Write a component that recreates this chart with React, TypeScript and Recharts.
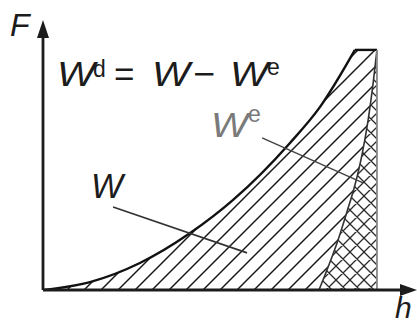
import React from "react";
import { ComposedChart, Area, XAxis, YAxis, ReferenceLine, ReferenceDot } from "recharts";

// loading curve (h, F)
const loadH = [0, 12.8, 26.4, 40.1, 51.8, 67.3, 75.5, 85.0];
const loadF = [0, 3.0, 10.2, 21.5, 34.0, 55.5, 69.1, 90.6];
// holding at max force
const topH = [85.0, 91.0];
const topF = [90.6, 90.6];
// unloading curve
const unloadH = [75.2, 77.9, 80.4, 82.8, 85.0, 86.9, 88.6, 89.9, 91.0];
const unloadF = [0, 9.4, 18.9, 29.4, 39.6, 50.9, 64.2, 77.4, 90.6];

type Row = { h: number; load?: number; top?: number; unload?: number };

function buildRows(): Row[] {
  const map = new Map<number, Row>();
  const put = (hs: number[], fs: number[], key: "load" | "top" | "unload") => {
    hs.forEach((h, i) => {
      const row = map.get(h) ?? { h };
      row[key] = fs[i];
      map.set(h, row);
    });
  };
  put(loadH, loadF, "load");
  put(topH, topF, "top");
  put(unloadH, unloadF, "unload");
  return [...map.values()].sort((a, b) => a.h - b.h);
}

const rows = buildRows();
const font = "'Liberation Sans', Arial, Helvetica, sans-serif";
const ink = "#1c1c1c";

const arrowUp = (p: any) => (
  <polygon points={`${p.cx},${p.cy} ${p.cx - 6},${p.cy + 18} ${p.cx + 6},${p.cy + 18}`} fill={ink} />
);
const arrowRight = (p: any) => (
  <polygon points={`${p.cx},${p.cy} ${p.cx - 17},${p.cy - 6} ${p.cx - 17},${p.cy + 6}`} fill={ink} />
);

export default function App() {
  return (
    <div style={{ position: "absolute", left: 0, top: 0, background: "#fff" }}>
      <ComposedChart width={417} height={327} data={rows} margin={{ top: 25, right: 7, bottom: 37, left: 43 }}>
        <defs>
          <pattern id="hatch" patternUnits="userSpaceOnUse" width="17" height="17">
            <path d="M-1,1 L1,-1 M0,17 L17,0 M16,18 L18,16" stroke="#1a1a1a" strokeWidth="1.5" />
          </pattern>
          <pattern id="cross" patternUnits="userSpaceOnUse" width="14" height="14">
            <rect width="14" height="14" fill="#fff" />
            <path d="M-1,1 L1,-1 M0,14 L14,0 M13,15 L15,13 M0,0 L14,14 M-1,13 L1,15 M13,-1 L15,1" stroke="#2a2a2a" strokeWidth="1.3" />
          </pattern>
        </defs>
        <XAxis dataKey="h" type="number" domain={[0, 100]} hide allowDataOverflow />
        <YAxis type="number" domain={[0, 100]} hide allowDataOverflow />
        <Area dataKey="load" type="monotone" connectNulls stroke="#111" strokeWidth={2.4} fill="url(#hatch)" fillOpacity={1} isAnimationActive={false} dot={false} activeDot={false} />
        <Area dataKey="top" type="linear" connectNulls stroke="#111" strokeWidth={2.4} fill="url(#hatch)" fillOpacity={1} isAnimationActive={false} dot={false} activeDot={false} />
        <Area dataKey="unload" type="monotone" connectNulls stroke="#333" strokeWidth={1.6} fill="url(#cross)" fillOpacity={1} isAnimationActive={false} dot={false} activeDot={false} />
        <ReferenceLine segment={[{ x: 91, y: 0 }, { x: 91, y: 90.6 }]} stroke="#888" strokeWidth={1.8} ifOverflow="visible" />
        {/* leader lines */}
        <ReferenceLine segment={[{ x: 19.1, y: 31.3 }, { x: 55.6, y: 14.0 }]} stroke="#333" strokeWidth={1.7} ifOverflow="visible" />
        <ReferenceLine segment={[{ x: 59.7, y: 57.4 }, { x: 87.2, y: 40.4 }]} stroke="#444" strokeWidth={1.5} ifOverflow="visible" />
        {/* axes */}
        <ReferenceLine segment={[{ x: 0, y: 0 }, { x: 98, y: 0 }]} stroke={ink} strokeWidth={2.8} ifOverflow="visible" />
        <ReferenceLine segment={[{ x: 0, y: 0 }, { x: 0, y: 96 }]} stroke={ink} strokeWidth={2.8} ifOverflow="visible" />
        <ReferenceDot x={0} y={101.9} r={0} shape={arrowUp} ifOverflow="visible" />
        <ReferenceDot x={101.9} y={0} r={0} shape={arrowRight} ifOverflow="visible" />
        {/* texts */}
        <text x={10} y={36} fontFamily={font} fontSize={32} fontStyle="italic" fill={ink}>F</text>
        <text x={395} y={318} fontFamily={font} fontSize={30} fontStyle="italic" fill={ink}>h</text>
        <text x={57} y={86} fontFamily={font} fontSize={35} fontStyle="italic" fill={ink} textLength={38} lengthAdjust="spacingAndGlyphs">W</text>
        <text x={93} y={77} fontFamily={font} fontSize={23} fill={ink}>d</text>
        <text x={114} y={86} fontFamily={font} fontSize={35} fill={ink}>=</text>
        <text x={152} y={86} fontFamily={font} fontSize={35} fontStyle="italic" fill={ink} textLength={38} lengthAdjust="spacingAndGlyphs">W</text>
        <text x={193} y={86} fontFamily={font} fontSize={35} fill={ink} textLength={22} lengthAdjust="spacingAndGlyphs">−</text>
        <text x={230} y={86} fontFamily={font} fontSize={35} fontStyle="italic" fill={ink} textLength={38} lengthAdjust="spacingAndGlyphs">W</text>
        <text x={267} y={75} fontFamily={font} fontSize={23} fill={ink}>e</text>
        <text x={211} y={137} fontFamily={font} fontSize={35} fontStyle="italic" fill="#7a7a7a" textLength={37} lengthAdjust="spacingAndGlyphs">W</text>
        <text x={248} y={122} fontFamily={font} fontSize={23} fill="#7a7a7a">e</text>
        <text x={91} y={198} fontFamily={font} fontSize={35} fontStyle="italic" fill={ink} textLength={32} lengthAdjust="spacingAndGlyphs">W</text>
      </ComposedChart>
    </div>
  );
}
